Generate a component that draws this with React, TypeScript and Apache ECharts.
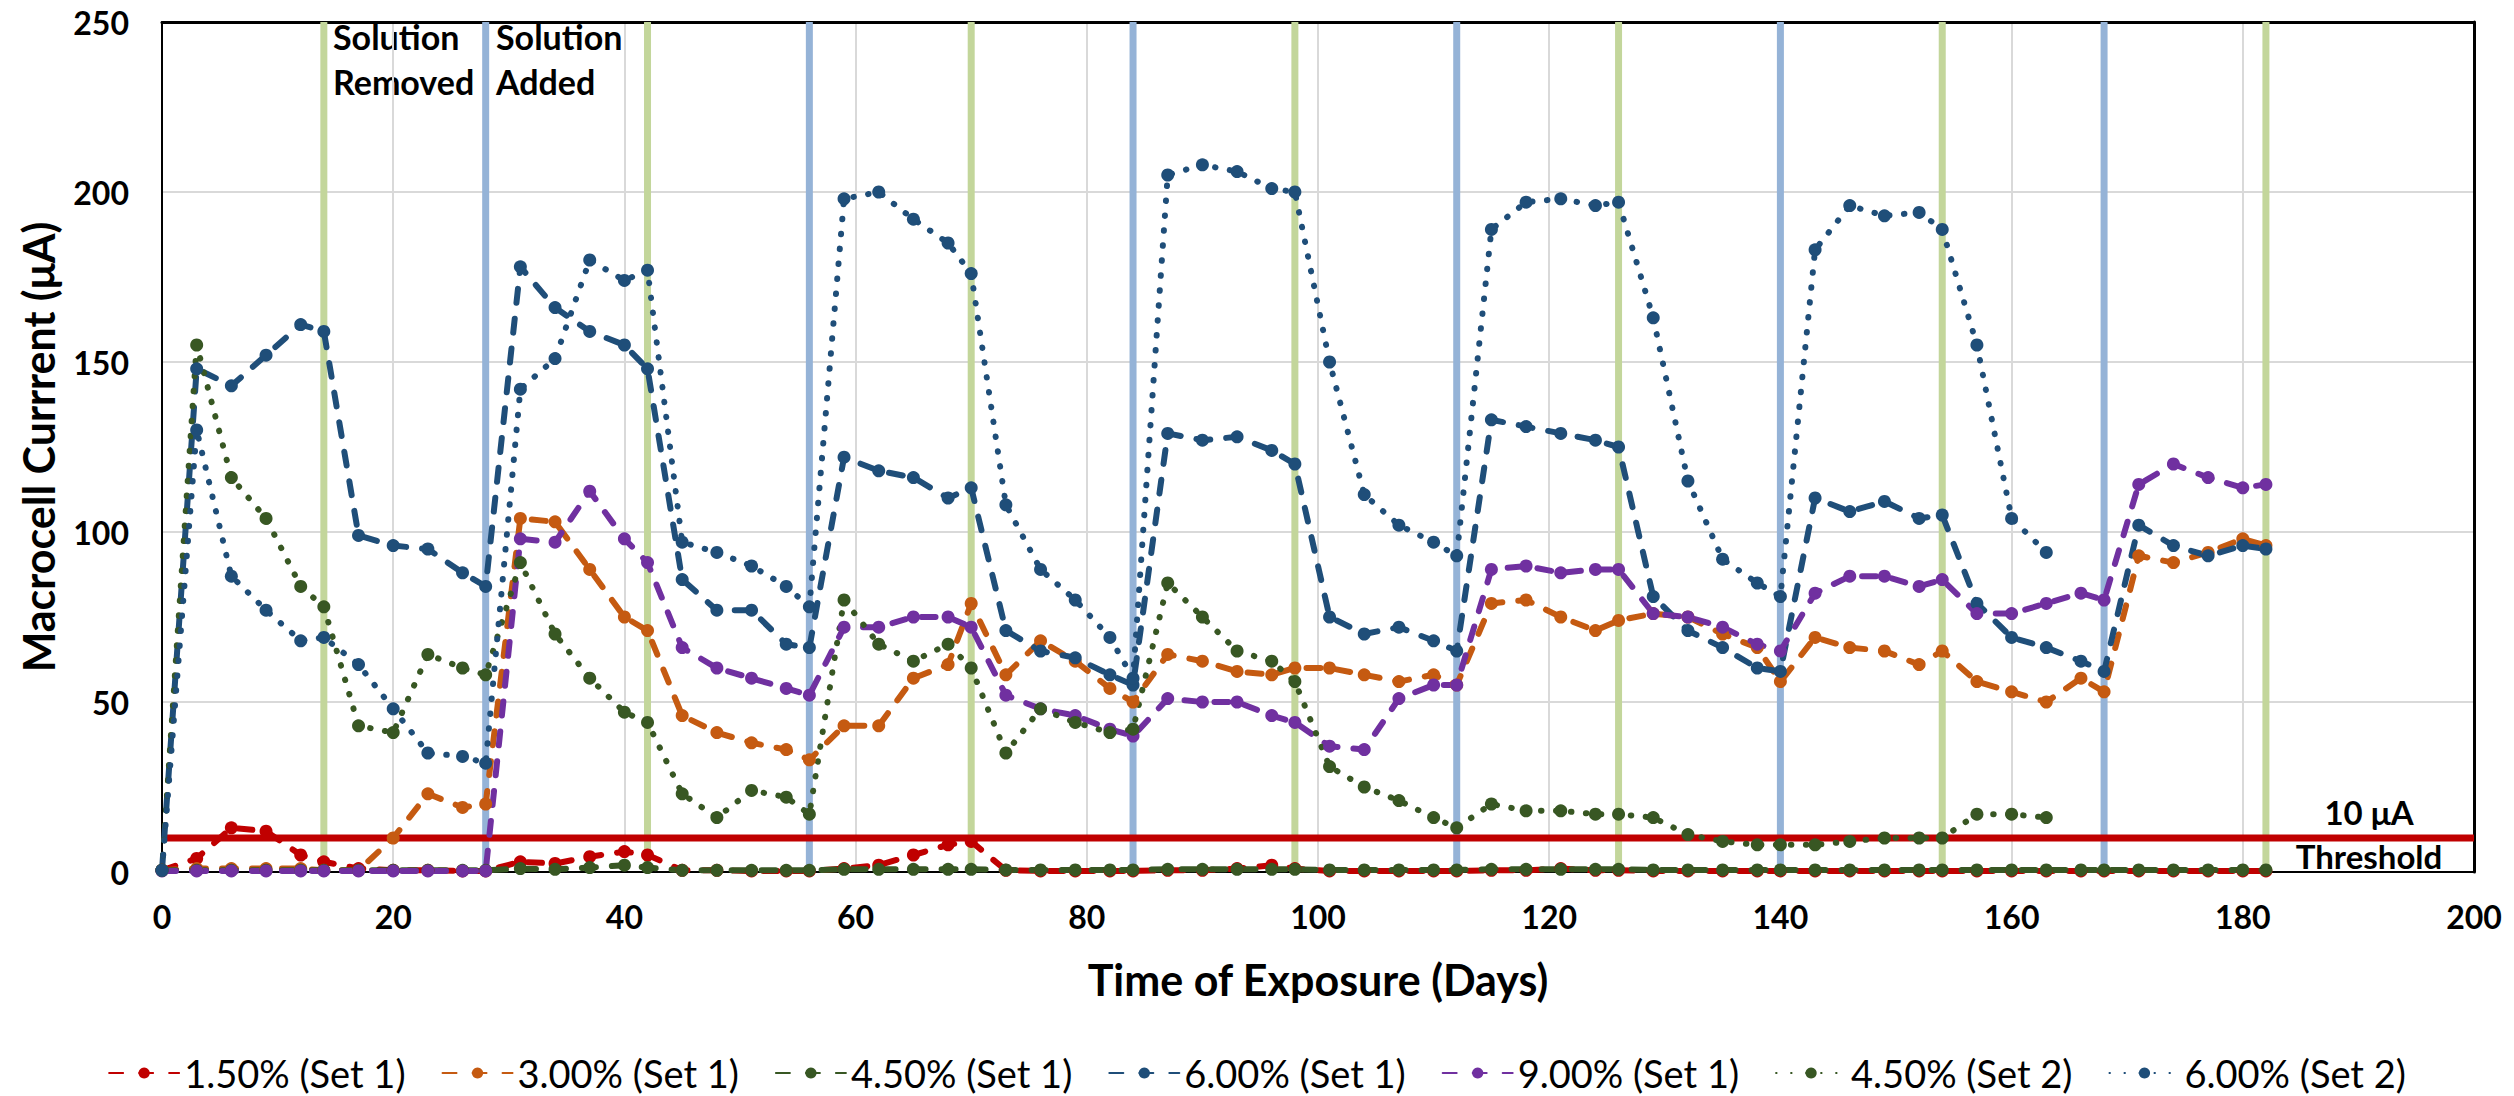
import React, { useEffect, useRef } from "react";
import * as echarts from "echarts";

// ---- data ----
const DAYS = [0, 3, 6, 9, 12, 14, 17, 20, 23, 26, 28, 31, 34, 37, 40, 42, 45, 48, 51, 54, 56, 59, 62, 65, 68, 70, 73, 76, 79, 82, 84, 87, 90, 93, 96, 98, 101, 104, 107, 110, 112, 115, 118, 121, 124, 126, 129, 132, 135, 138, 140, 143, 146, 149, 152, 154, 157, 160, 163, 166, 168, 171, 174, 177, 180, 182];

const SERIES_NAMES = ["1.50% (Set 1)", "3.00% (Set 1)", "4.50% (Set 1)", "6.00% (Set 1)", "9.00% (Set 1)", "4.50% (Set 2)", "6.00% (Set 2)"];

const CUR_150_S1 = [0.5, 4, 13, 12, 5, 3, 1, 0.5, 0.5, 0.3, 0.3, 3, 2.5, 4.5, 6, 5, 0.5, 0.5, 0.3, 0.3, 0.3, 1, 2, 5, 8, 9, 0.5, 0.3, 0.3, 0.3, 0.3, 0.5, 0.5, 1, 2, 1, 0.3, 0.3, 0.3, 0.3, 0.3, 0.5, 0.5, 1, 0.5, 0.5, 0.3, 0.3, 0.3, 0.3, 0.3, 0.3, 0.3, 0.3, 0.3, 0.3, 0.3, 0.3, 0.3, 0.3, 0.3, 0.3, 0.3, 0.3, 0.3, 0.3];
const CUR_300_S1 = [0.5, 1, 1, 1, 1, 0.5, 0.5, 10, 23, 19, 20, 104, 103, 89, 75, 71, 46, 41, 38, 36, 33, 43, 43, 57, 61, 79, 58, 68, 62, 54, 50, 64, 62, 59, 58, 60, 60, 58, 56, 58, 55, 79, 80, 75, 71, 74, 76, 75, 70, 66, 56, 69, 66, 65, 61, 65, 56, 53, 50, 57, 53, 93, 91, 94, 98, 96];
const CUR_450_S1 = [0.5, 0.5, 0.5, 0.5, 0.5, 0.5, 0.5, 0.5, 0.5, 0.5, 0.5, 1, 0.8, 1.3, 2, 1.3, 0.5, 0.5, 0.5, 0.5, 0.5, 0.8, 0.8, 0.8, 0.8, 0.8, 0.6, 0.6, 0.6, 0.6, 0.6, 0.8, 0.8, 0.8, 0.8, 0.8, 0.6, 0.6, 0.6, 0.6, 0.6, 0.8, 0.8, 0.8, 0.8, 0.8, 0.6, 0.6, 0.6, 0.6, 0.6, 0.6, 0.6, 0.6, 0.6, 0.6, 0.6, 0.6, 0.6, 0.6, 0.6, 0.6, 0.6, 0.6, 0.6, 0.6];
const CUR_600_S1 = [0.5, 148, 143, 152, 161, 159, 99, 96, 95, 88, 84, 178, 166, 159, 155, 148, 86, 77, 77, 67, 66, 122, 118, 116, 110, 113, 71, 65, 63, 58, 55, 129, 127, 128, 124, 120, 75, 70, 72, 68, 65, 133, 131, 129, 127, 125, 81, 71, 66, 60, 59, 110, 106, 109, 104, 105, 79, 69, 66, 62, 59, 102, 96, 93, 96, 95];
const CUR_900_S1 = [0.3, 0.3, 0.3, 0.3, 0.3, 0.3, 0.3, 0.3, 0.3, 0.3, 0.3, 98, 97, 112, 98, 91, 66, 60, 57, 54, 52, 72, 72, 75, 75, 72, 52, 48, 46, 42, 40, 51, 50, 50, 46, 44, 37, 36, 51, 55, 55, 89, 90, 88, 89, 89, 76, 75, 72, 67, 65, 82, 87, 87, 84, 86, 76, 76, 79, 82, 80, 114, 120, 116, 113, 114];
const CUR_450_S2 = [0.5, 155, 116, 104, 84, 78, 43, 41, 64, 60, 58, 91, 70, 57, 47, 44, 23, 16, 24, 22, 17, 80, 67, 62, 67, 60, 35, 48, 44, 41, 42, 85, 75, 65, 62, 56, 31, 25, 21, 16, 13, 20, 18, 18, 17, 17, 16, 11, 9, 8, 8, 8, 9, 10, 10, 10, 17, 17, 16];
const CUR_600_S2 = [0.5, 130, 87, 77, 68, 69, 61, 48, 35, 34, 32, 142, 151, 180, 174, 177, 97, 94, 90, 84, 78, 198, 200, 192, 185, 176, 108, 89, 80, 69, 57, 205, 208, 206, 201, 200, 150, 111, 102, 97, 93, 189, 197, 198, 196, 197, 163, 115, 92, 85, 81, 183, 196, 193, 194, 189, 155, 104, 94];

const SOLUTION_REMOVED_DAYS = [14, 42, 70, 98, 126, 154, 182];
const SOLUTION_ADDED_DAYS = [28, 56, 84, 112, 140, 168];
const THRESHOLD = 10;

const X_TICKS = { min: 0, max: 200, interval: 20 };
const Y_TICKS = { min: 0, max: 250, interval: 50 };

// ---- styling ----
const FONT = "Lato, 'Open Sans', sans-serif";
const DASH = [14, 16];
const DOT = [0.5, 14.5];

const STYLES = [
  { color: "#C00000", type: DASH },
  { color: "#C55A11", type: DASH },
  { color: "#385723", type: DASH },
  { color: "#1F4E79", type: DASH },
  { color: "#7030A0", type: DASH },
  { color: "#385723", type: DOT },
  { color: "#1F4E79", type: DOT },
];
const VALUES = [CUR_150_S1, CUR_300_S1, CUR_450_S1, CUR_600_S1, CUR_900_S1, CUR_450_S2, CUR_600_S2];

export default function App() {
  const ref = useRef<HTMLDivElement>(null);
  useEffect(() => {
    if (!ref.current) return;
    const chart = echarts.init(ref.current, null, { renderer: "svg" });

    const guideSeries: any[] = [];
    const addVertical = (d: number, color: string, idx: number) =>
      guideSeries.push({
        name: "guide" + idx,
        type: "line",
        data: [[d, Y_TICKS.min], [d, Y_TICKS.max]],
        showSymbol: false,
        symbol: "none",
        silent: true,
        z: 2,
        lineStyle: { color, width: 7, type: "solid" },
      });
    SOLUTION_REMOVED_DAYS.forEach((d, i) => addVertical(d, "#C3D69B", i));
    SOLUTION_ADDED_DAYS.forEach((d, i) => addVertical(d, "#95B3D7", 100 + i));
    guideSeries.push({
      name: "threshold",
      type: "line",
      data: [[X_TICKS.min, THRESHOLD], [X_TICKS.max, THRESHOLD]],
      showSymbol: false,
      symbol: "none",
      silent: true,
      z: 2,
      lineStyle: { color: "#C00000", width: 7, type: "solid" },
    });

    const dataSeries = SERIES_NAMES.map((name, i) => ({
      name,
      type: "line",
      data: VALUES[i].map((v, k) => [DAYS[k], v]),
      symbol: "circle",
      symbolSize: 13,
      itemStyle: { color: STYLES[i].color },
      lineStyle: { color: STYLES[i].color, width: 6, type: STYLES[i].type, cap: "round" },
      z: 3,
    }));

    const frameAxis = {
      axisLine: { show: true, onZero: false, lineStyle: { color: "#000", width: 3 } },
      axisTick: { show: false },
      axisLabel: { show: false },
      splitLine: { show: false },
    };

    const option: any = {
      animation: false,
      backgroundColor: "#fff",
      grid: { left: 162, right: 40, top: 22, bottom: 224 },
      xAxis: [
        {
          type: "value",
          ...X_TICKS,
          axisLine: { show: true, onZero: false, lineStyle: { color: "#000", width: 2 } },
          axisTick: { show: false },
          splitLine: { show: true, lineStyle: { color: "#D9D9D9", width: 2 } },
          axisLabel: { fontSize: 32, fontWeight: "bold", color: "#000", fontFamily: FONT, margin: 28 },
        },
        { type: "value", ...X_TICKS, position: "top", ...frameAxis },
      ],
      yAxis: [
        {
          type: "value",
          ...Y_TICKS,
          axisLine: { show: true, onZero: false, lineStyle: { color: "#000", width: 2 } },
          axisTick: { show: false },
          splitLine: { show: true, lineStyle: { color: "#D9D9D9", width: 2 } },
          axisLabel: { fontSize: 32, fontWeight: "bold", color: "#000", fontFamily: FONT, margin: 33 },
        },
        { type: "value", ...Y_TICKS, position: "right", ...frameAxis },
      ],
      legend: {
        data: SERIES_NAMES,
        left: "center",
        top: 1049,
        itemWidth: 70,
        itemHeight: 14,
        itemGap: 36,
        textStyle: { fontSize: 38, fontFamily: FONT, color: "#000" },
      },
      graphic: [
        {
          type: "text",
          x: 333,
          y: 14,
          style: { text: "Solution\nRemoved", fontSize: 34, fontWeight: "bold", fontFamily: FONT, fill: "#000", lineHeight: 45, align: "left", verticalAlign: "top" },
        },
        {
          type: "text",
          x: 496,
          y: 14,
          style: { text: "Solution\nAdded", fontSize: 34, fontWeight: "bold", fontFamily: FONT, fill: "#000", lineHeight: 45, align: "left", verticalAlign: "top" },
        },
        {
          type: "text",
          x: 2369,
          y: 812,
          style: { text: "10 μA", fontSize: 33, fontWeight: "bold", fontFamily: FONT, fill: "#000", align: "center", verticalAlign: "middle" },
        },
        {
          type: "text",
          x: 2369,
          y: 856,
          style: { text: "Threshold", fontSize: 33, fontWeight: "bold", fontFamily: FONT, fill: "#000", align: "center", verticalAlign: "middle" },
        },
        {
          type: "text",
          x: 1318,
          y: 979,
          style: { text: "Time of Exposure (Days)", fontSize: 43, fontWeight: "bold", fontFamily: FONT, fill: "#000", align: "center", verticalAlign: "middle" },
        },
        {
          type: "text",
          x: 38,
          y: 447,
          rotation: Math.PI / 2,
          style: { text: "Macrocell Currrent (μA)", fontSize: 43, fontWeight: "bold", fontFamily: FONT, fill: "#000", align: "center", verticalAlign: "middle" },
        },
      ],
      series: [...guideSeries, ...dataSeries],
    };
    chart.setOption(option);
    return () => chart.dispose();
  }, []);

  return (
    <div
      ref={ref}
      style={{ position: "fixed", left: 0, top: 0, width: 2514, height: 1096, background: "#fff" }}
    />
  );
}
